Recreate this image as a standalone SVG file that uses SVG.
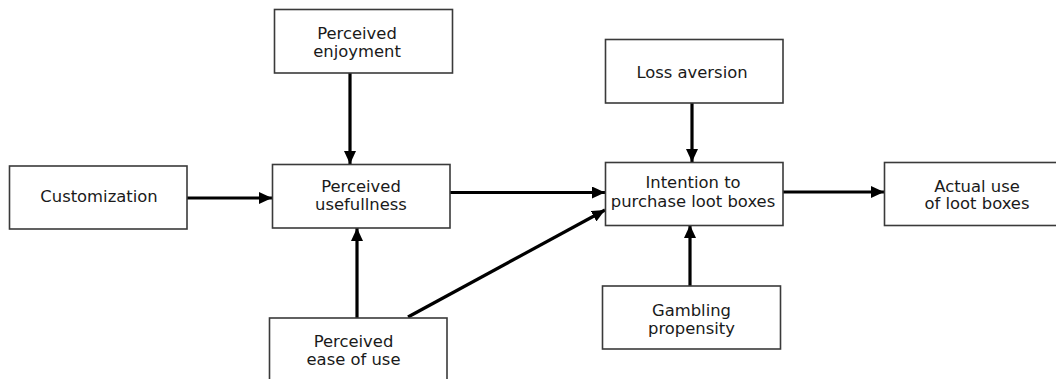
<svg xmlns="http://www.w3.org/2000/svg" width="1056" height="379" viewBox="0 0 1056 379">
<defs>
<style>
.box{fill:#fff;stroke:#3a3a3a;stroke-width:1.6}
.lbl{font-family:"DejaVu Sans",sans-serif;font-size:16.4px;fill:#1a1a1a;text-anchor:middle}
.arr{stroke:#000;stroke-width:3.2;fill:none;marker-end:url(#ah)}
</style>
<marker id="ah" markerUnits="userSpaceOnUse" markerWidth="14" markerHeight="12" refX="13" refY="6" orient="auto">
<path d="M0,0 L13,6 L0,12 z" fill="#000"/>
</marker>
</defs>
<rect width="1056" height="379" fill="#fff"/>
<g id="connectors">
<line class="arr" x1="350" y1="73" x2="350" y2="164"/>
<line class="arr" x1="187" y1="198" x2="272" y2="198"/>
<line class="arr" x1="357" y1="318" x2="357" y2="228"/>
<line class="arr" x1="408" y1="317" x2="605" y2="210"/>
<line class="arr" x1="450" y1="192.5" x2="605" y2="192.5"/>
<line class="arr" x1="692" y1="103" x2="692" y2="162"/>
<line class="arr" x1="690" y1="286" x2="690" y2="225"/>
<line class="arr" x1="783" y1="192" x2="884" y2="192"/>
</g>
<g id="enjoyment">
<rect class="box" x="274.5" y="9.5" width="178" height="63.5"/>
<text class="lbl" x="357" y="39">Perceived</text>
<text class="lbl" x="357" y="57">enjoyment</text>
</g>
<g id="customization">
<rect class="box" x="9.5" y="166" width="177.5" height="63"/>
<text class="lbl" x="99" y="201.7">Customization</text>
</g>
<g id="usefulness">
<rect class="box" x="272.5" y="164.5" width="177.5" height="63.5"/>
<text class="lbl" x="361" y="192">Perceived</text>
<text class="lbl" x="361" y="210">usefullness</text>
</g>
<g id="easeofuse">
<rect class="box" x="269.5" y="318" width="177.5" height="70"/>
<text class="lbl" x="353.5" y="346.7">Perceived</text>
<text class="lbl" x="353.5" y="365">ease of use</text>
</g>
<g id="lossaversion">
<rect class="box" x="605.5" y="39.5" width="177.5" height="63.5"/>
<text class="lbl" x="692" y="78.3">Loss aversion</text>
</g>
<g id="intention">
<rect class="box" x="605.5" y="162.5" width="177.5" height="63"/>
<text class="lbl" x="693" y="188.3">Intention to</text>
<text class="lbl" x="693" y="206.7">purchase loot boxes</text>
</g>
<g id="gambling">
<rect class="box" x="602.5" y="286" width="178" height="63"/>
<text class="lbl" x="691.5" y="316">Gambling</text>
<text class="lbl" x="691.5" y="333.5">propensity</text>
</g>
<g id="actualuse">
<rect class="box" x="884.5" y="162.5" width="180" height="63"/>
<text class="lbl" x="977" y="191.5">Actual use</text>
<text class="lbl" x="977" y="209">of loot boxes</text>
</g>
</svg>
